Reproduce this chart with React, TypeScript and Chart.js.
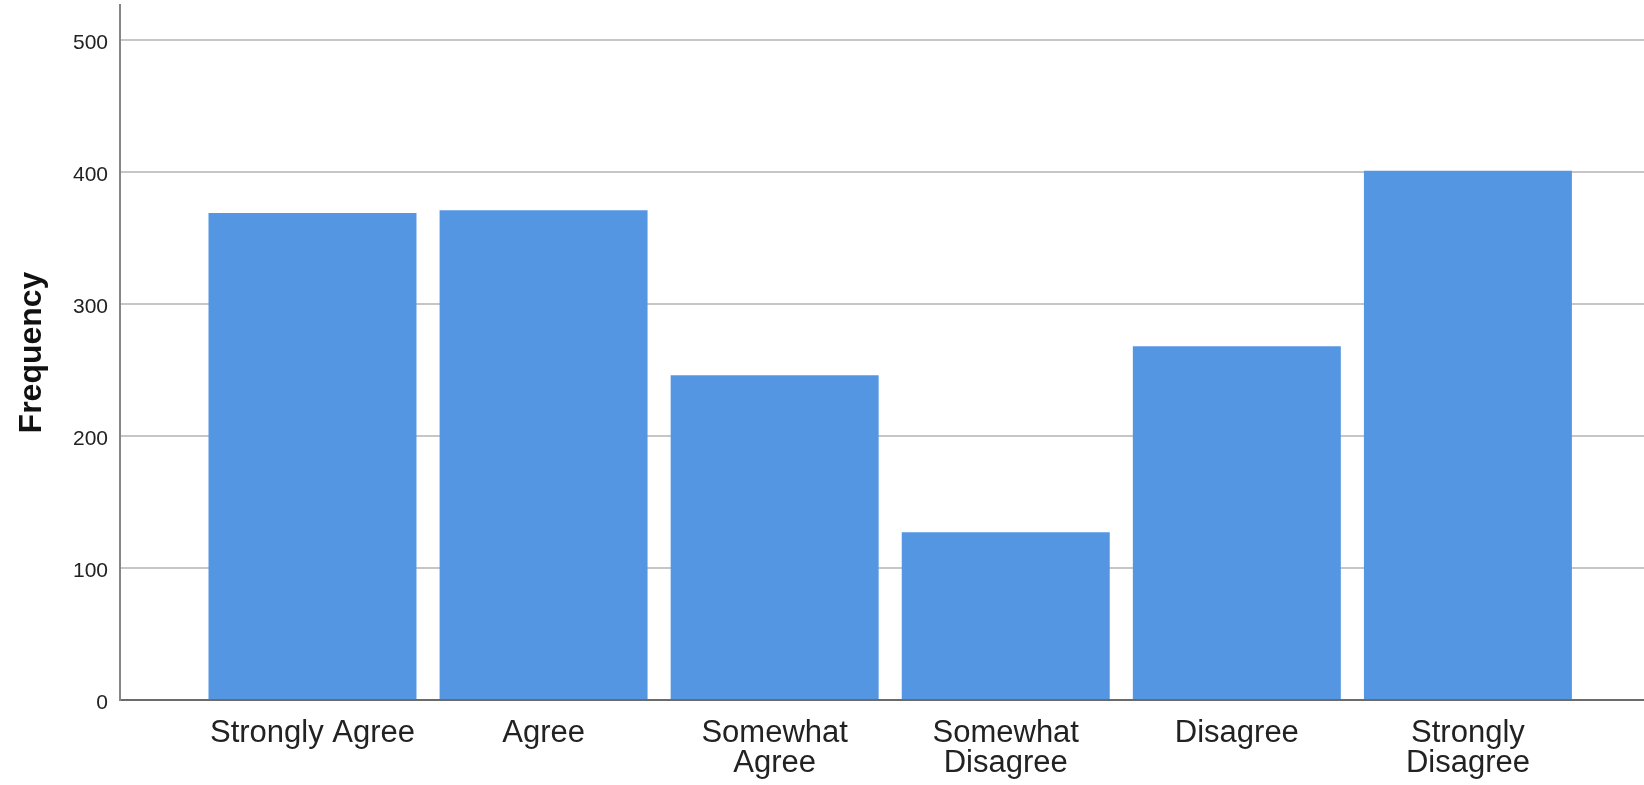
import React, { useEffect, useRef } from 'react';
import { Chart, registerables } from 'chart.js';

Chart.register(...registerables);

const CATEGORIES: (string | string[])[] = [
  'Strongly Agree',
  'Agree',
  ['Somewhat', 'Agree'],
  ['Somewhat', 'Disagree'],
  'Disagree',
  ['Strongly', 'Disagree'],
];
const FREQUENCIES = [369, 371, 246, 127, 268, 401];
const Y_TICKS = [0, 100, 200, 300, 400, 500];
const Y_MAX = 526.5;
const X_MIN = -0.833;
const X_MAX = 5.762;

const FONT = "'Liberation Sans', Arial, Helvetica, sans-serif";

export default function App() {
  const canvasRef = useRef<HTMLCanvasElement | null>(null);

  useEffect(() => {
    document.body.style.margin = '0';
    const canvas = canvasRef.current;
    if (!canvas) return;
    const chart = new Chart(canvas, {
      type: 'bar',
      data: {
        datasets: [
          {
            label: 'Frequency',
            data: FREQUENCIES.map((v, i) => ({ x: i, y: v })),
            backgroundColor: '#5596E3',
            borderWidth: 0,
            categoryPercentage: 0.9,
            barPercentage: 1,
          },
        ],
      },
      options: {
        animation: false,
        responsive: true,
        maintainAspectRatio: false,
        layout: { padding: { top: 5, left: 0, right: 0, bottom: 0 } },
        plugins: {
          legend: { display: false },
          tooltip: { enabled: false },
        },
        scales: {
          x: {
            type: 'linear',
            position: 'bottom',
            min: X_MIN,
            max: X_MAX,
            offset: false,
            grid: { display: false, offset: false, drawTicks: false },
            border: { display: true, color: '#6b6b6b', width: 2 },
            afterBuildTicks: (scale: any) => {
              scale.ticks = CATEGORIES.map((_, i) => ({ value: i }));
            },
            afterFit: (scale: any) => {
              scale.height = 85;
              scale.paddingLeft = 0;
              scale.paddingRight = 0;
            },
            ticks: {
              autoSkip: false,
              maxRotation: 0,
              minRotation: 0,
              padding: 18,
              color: '#222222',
              font: { family: FONT, size: 31, lineHeight: 0.968 },
              callback: (value: any) => {
                const idx = Math.round(Number(value));
                return Math.abs(idx - Number(value)) < 1e-6 && CATEGORIES[idx] !== undefined ? CATEGORIES[idx] : '';
              },
            },
          },
          y: {
            type: 'linear',
            min: 0,
            max: Y_MAX,
            afterBuildTicks: (scale: any) => {
              scale.ticks = Y_TICKS.map((v) => ({ value: v }));
            },
            afterFit: (scale: any) => {
              scale.width = 120;
              scale.paddingTop = 0;
              scale.paddingBottom = 0;
            },
            grid: {
              display: true,
              drawTicks: false,
              color: '#c6c6c6',
              lineWidth: 2,
            },
            border: { display: true, color: '#858585', width: 2 },
            ticks: {
              padding: 12,
              labelOffset: 3,
              color: '#222222',
              font: { family: FONT, size: 21 },
              callback: (value: any) => String(value),
            },
            title: {
              display: true,
              text: 'Frequency',
              color: '#111111',
              padding: { top: 16, bottom: 0 },
              font: { family: FONT, size: 32, weight: 'bold', lineHeight: 1 },
            },
          },
        },
      },
    } as any);
    return () => chart.destroy();
  }, []);

  return (
    <div style={{ position: 'fixed', left: 0, top: 0, width: 1644, height: 785, background: '#ffffff' }}>
      <canvas ref={canvasRef} />
    </div>
  );
}
